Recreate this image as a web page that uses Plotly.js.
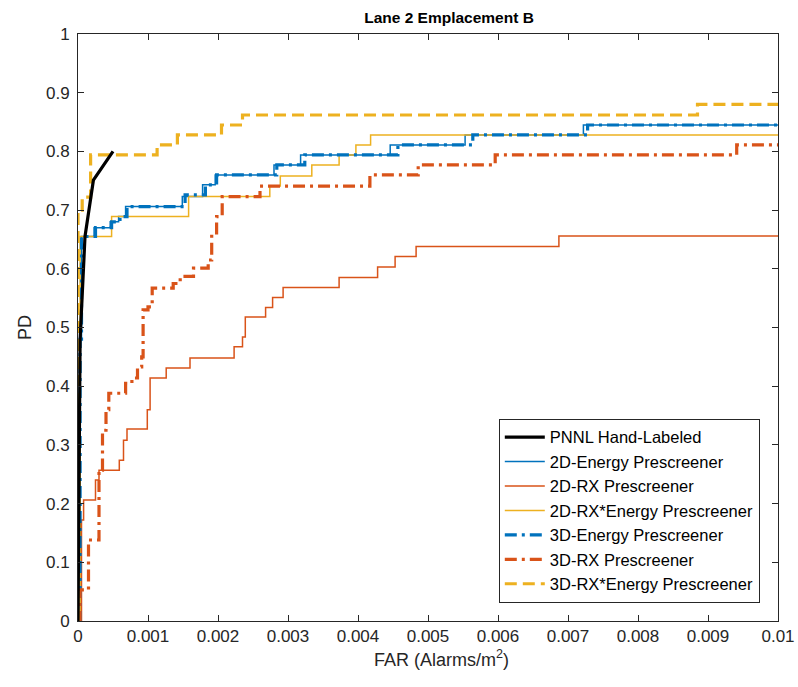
<!DOCTYPE html>
<html>
<head>
<meta charset="utf-8">
<script src="https://cdn.plot.ly/plotly-3.0.1.min.js"></script>
<style>html,body{margin:0;padding:0;background:#fff;}#chart{width:798px;height:687px;}</style>
</head>
<body>
<div id="chart"></div>
<script>
// ---- Data (FAR in Alarms/m^2, PD) ----
const pnnlFAR = [0, 0.00003, 0.0001, 0.00022, 0.0005];
const pnnlPD  = [0, 0.48, 0.655, 0.751, 0.80];

const e2dFAR = [0, 0.00003, 0.00005, 0.00023, 0.00046, 0.00058, 0.00068, 0.00149, 0.00178, 0.00196, 0.0028, 0.00318, 0.00446, 0.00553, 0.00722, 0.01];
const e2dPD  = [0, 0.48, 0.655, 0.67, 0.68, 0.689, 0.706, 0.723, 0.743, 0.76, 0.777, 0.794, 0.811, 0.828, 0.845, 0.845];

const rx2dFAR = [0, 0.00005, 0.00008, 0.00025, 0.0003, 0.00059, 0.00065, 0.0007, 0.00099, 0.00103, 0.00126, 0.0016, 0.00223, 0.00235, 0.00239, 0.00268, 0.00278, 0.00293, 0.00373, 0.00428, 0.00453, 0.00483, 0.00687, 0.01];
const rx2dPD  = [0, 0.172, 0.206, 0.24, 0.257, 0.274, 0.308, 0.327, 0.36, 0.414, 0.431, 0.448, 0.467, 0.484, 0.518, 0.534, 0.551, 0.568, 0.585, 0.603, 0.621, 0.638, 0.656, 0.656];

const rxe2dFAR = [0, 0.00003, 0.00048, 0.00158, 0.00274, 0.00289, 0.00334, 0.00373, 0.00397, 0.00418, 0.01];
const rxe2dPD  = [0, 0.655, 0.689, 0.723, 0.741, 0.758, 0.777, 0.794, 0.811, 0.828, 0.828];

const e3dFAR = [0, 0.00003, 0.00005, 0.00025, 0.00048, 0.0006, 0.0007, 0.00153, 0.00182, 0.00198, 0.00284, 0.00324, 0.00457, 0.00564, 0.00728, 0.01];
const e3dPD  = [0, 0.48, 0.655, 0.67, 0.68, 0.689, 0.706, 0.726, 0.743, 0.76, 0.777, 0.794, 0.811, 0.828, 0.845, 0.845];

const rx3dFAR = [0, 0.00003, 0.00015, 0.0003, 0.00035, 0.0004, 0.00044, 0.00068, 0.00077, 0.00085, 0.00091, 0.00093, 0.001, 0.00106, 0.00136, 0.00146, 0.00165, 0.00186, 0.00191, 0.00198, 0.00206, 0.0026, 0.00417, 0.00486, 0.00596, 0.00941, 0.01];
const rx3dPD  = [0, 0.053, 0.138, 0.257, 0.325, 0.36, 0.388, 0.405, 0.414, 0.433, 0.45, 0.53, 0.535, 0.567, 0.575, 0.587, 0.601, 0.615, 0.661, 0.689, 0.723, 0.741, 0.76, 0.777, 0.794, 0.811, 0.811];

const rxe3dFAR = [0, 0, 0.00006, 0.00018, 0.00113, 0.00142, 0.00205, 0.00235, 0.00885, 0.01];
const rxe3dPD  = [0, 0.70, 0.722, 0.794, 0.811, 0.828, 0.845, 0.862, 0.880, 0.880];

const xTickVals = [0, 0.001, 0.002, 0.003, 0.004, 0.005, 0.006, 0.007, 0.008, 0.009, 0.01];
const xTickText = ['0', '0.001', '0.002', '0.003', '0.004', '0.005', '0.006', '0.007', '0.008', '0.009', '0.01'];
const yTickVals = [0, 0.1, 0.2, 0.3, 0.4, 0.5, 0.6, 0.7, 0.8, 0.9, 1];
const yTickText = ['0', '0.1', '0.2', '0.3', '0.4', '0.5', '0.6', '0.7', '0.8', '0.9', '1'];

const names = ['PNNL Hand-Labeled', '2D-Energy Prescreener', '2D-RX Prescreener', '2D-RX*Energy Prescreener', '3D-Energy Prescreener', '3D-RX Prescreener', '3D-RX*Energy Prescreener'];

const BLUE = '#0072BD', RED = '#D95319', YEL = '#EDB120';
const DASHDOT = '12px,5px,3px,5px';
const DASHED = '12px,6px';
const FONT = 'Liberation Sans, Arial, sans-serif';

const traces = [
  {x: e2dFAR, y: e2dPD, name: names[1], legendrank: 2, line: {color: BLUE, width: 1.5, shape: 'hv'}},
  {x: rx2dFAR, y: rx2dPD, name: names[2], legendrank: 3, line: {color: RED, width: 1.5, shape: 'hv'}},
  {x: rxe2dFAR, y: rxe2dPD, name: names[3], legendrank: 4, line: {color: YEL, width: 1.5, shape: 'hv'}},
  {x: e3dFAR, y: e3dPD, name: names[4], legendrank: 5, line: {color: BLUE, width: 3.2, shape: 'hv', dash: DASHDOT}},
  {x: rx3dFAR, y: rx3dPD, name: names[5], legendrank: 6, line: {color: RED, width: 3.2, shape: 'hv', dash: DASHDOT}},
  {x: rxe3dFAR, y: rxe3dPD, name: names[6], legendrank: 7, line: {color: YEL, width: 3.2, shape: 'hv', dash: DASHED}},
  {x: pnnlFAR, y: pnnlPD, name: names[0], legendrank: 1, line: {color: '#000000', width: 3.2}}
].map(t => Object.assign({type: 'scatter', mode: 'lines', hoverinfo: 'skip'}, t));

const axisCommon = {
  showgrid: false, zeroline: false, showline: true, linecolor: '#262626', linewidth: 1,
  mirror: 'ticks', ticks: 'inside', ticklen: 6, tickcolor: '#262626', tickwidth: 1,
  tickfont: {family: FONT, size: 17, color: '#262626'},
  tickmode: 'array', fixedrange: true
};

const layout = {
  width: 798, height: 687,
  margin: {l: 78, r: 20, t: 34, b: 66},
  paper_bgcolor: '#ffffff', plot_bgcolor: '#ffffff',
  font: {family: FONT, color: '#262626'},
  title: {text: '<b>Lane 2 Emplacement B</b>', font: {family: FONT, size: 15.5, color: '#000000'}, xref: 'container', x: 0.5627, xanchor: 'center', yref: 'container', y: 0.974, yanchor: 'middle'},
  xaxis: Object.assign({}, axisCommon, {
    range: [0, 0.01], tickvals: xTickVals, ticktext: xTickText
  }),
  yaxis: Object.assign({}, axisCommon, {
    range: [0, 1], tickvals: yTickVals, ticktext: yTickText, ticklabelstandoff: 4,
    title: {text: 'PD', font: {family: FONT, size: 18, color: '#262626'}, standoff: 9}
  }),
  annotations: [{
    text: 'FAR (Alarms/m<sup>2</sup>)', xref: 'paper', yref: 'paper', x: 0.5186, y: -0.041,
    xanchor: 'center', yanchor: 'top', showarrow: false,
    font: {family: FONT, size: 18, color: '#262626'}
  }],
  showlegend: true,
  legend: {
    x: 0.974, y: 0.031, xanchor: 'right', yanchor: 'bottom',
    bgcolor: '#ffffff', bordercolor: '#262626', borderwidth: 1,
    font: {family: FONT, size: 16.5, color: '#000000'},
    tracegroupgap: 0, itemwidth: 40
  }
};

Plotly.newPlot('chart', traces, layout, {staticPlot: true, displayModeBar: false});
</script>
</body>
</html>
